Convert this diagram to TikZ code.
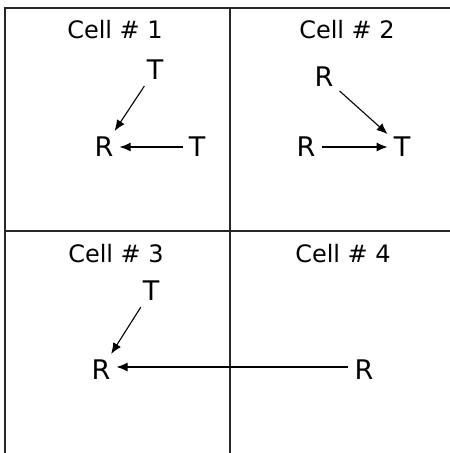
\documentclass[tikz,border=0pt]{standalone}
\usepackage{fontspec}
\setmainfont{DejaVu Sans}
\usetikzlibrary{arrows.meta}

\begin{document}
\begin{tikzpicture}[
  x=1pt, y=-1pt,
  grid/.style={line width=1.8pt, black!85},
  title/.style={font=\fontsize{24}{26}\selectfont, inner sep=0pt, anchor=base},
  sym/.style={font=\fontsize{27}{29}\selectfont, inner sep=6pt},
  arrow/.style={-{Latex[length=11pt, width=9pt]}, line width=1.1pt}]

  \useasboundingbox (0,0) rectangle (450,453);

  % the four cells
  \draw[grid] (450,8) -- (5,8) -- (5,453);
  \draw[grid] (230,8) -- (230,453);
  \draw[grid] (5,231) -- (450,231);

  \node[title] (cell1) at (115,38) {Cell \# 1};
  \node[title] (cell2) at (347,38) {Cell \# 2};
  \node[title] (cell3) at (116,262) {Cell \# 3};
  \node[title] (cell4) at (343,262) {Cell \# 4};

  % cell 1
  \node[sym] (t1a) at (155,70) {T};
  \node[sym] (r1) at (104,147) {R};
  \node[sym] (t1b) at (197,147) {T};
  \draw[arrow] (t1a) -- (r1);
  \draw[arrow] (t1b) -- (r1);

  % cell 2
  \node[sym] (r2a) at (324,77) {R};
  \node[sym] (r2b) at (306,147) {R};
  \node[sym] (t2) at (402,147) {T};
  \draw[arrow] (r2a) -- (t2);
  \draw[arrow] (r2b) -- (t2);

  % cells 3 and 4
  \node[sym] (t3) at (151,291) {T};
  \node[sym] (r3) at (101,370) {R};
  \node[sym] (r4) at (364,370) {R};
  \draw[arrow] (t3) -- (r3);
  \draw[arrow] (r4.west |- 0,367) -- (r3.east |- 0,367);
\end{tikzpicture}
\end{document}
